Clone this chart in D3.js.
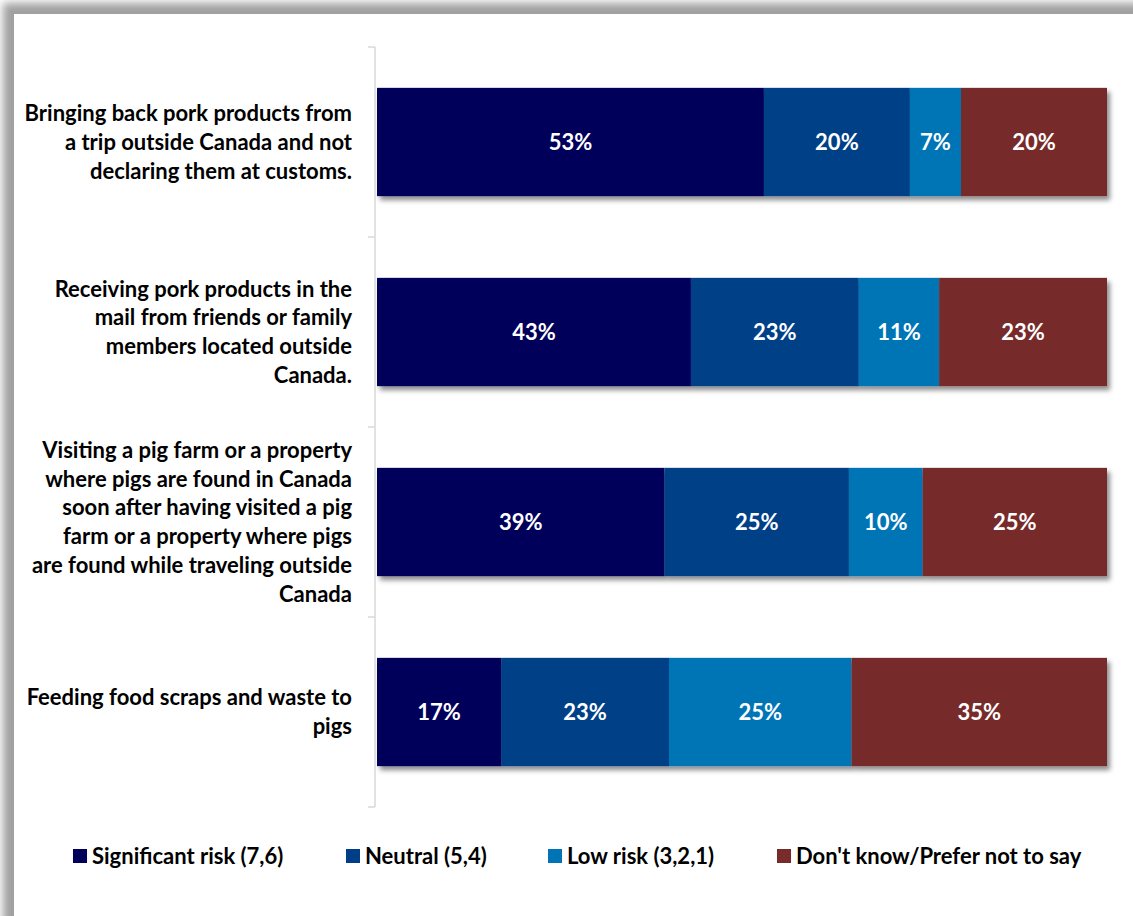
<!DOCTYPE html>
<html>
<head>
<meta charset="utf-8">
<script src="https://cdn.jsdelivr.net/npm/d3@7"></script>
<style>
  body { margin: 0; background: #fff; }
  svg { display: block; font-family: Lato, "Open Sans", sans-serif; }
</style>
</head>
<body>
<script>
const categories = [
  "Bringing back pork products from|a trip outside Canada and not|declaring them at customs.",
  "Receiving pork products in the|mail from friends or family|members located outside|Canada.",
  "Visiting a pig farm or a property|where pigs are found in Canada|soon after having visited a pig|farm or a property where pigs|are found while traveling outside|Canada",
  "Feeding food scraps and waste to|pigs"
]
const seriesNames = ["Significant risk (7,6)", "Neutral (5,4)", "Low risk (3,2,1)", "Don't know/Prefer not to say"]
const significant = [53, 43, 39, 17]
const neutral = [20, 23, 25, 23]
const lowRisk = [7, 11, 10, 25]
const dontKnow = [20, 23, 25, 35]
const colors = ["#00005a", "#003f87", "#0074b5", "#772b2b"]

const width = 1133, height = 916
const margin = ({top: 47, right: 26, bottom: 109, left: 377})

const data = categories.map((c, i) => ({
  cat: c,
  [seriesNames[0]]: significant[i],
  [seriesNames[1]]: neutral[i],
  [seriesNames[2]]: lowRisk[i],
  [seriesNames[3]]: dontKnow[i]
}))

// each row is shown as 100% (labels are rounded values)
const stack = d3.stack().keys(seriesNames).offset(d3.stackOffsetExpand)(data)

const x = d3.scaleLinear().domain([0, 1]).range([margin.left, width - margin.right])
const y = d3.scaleBand()
  .domain(d3.range(categories.length))
  .range([margin.top, height - margin.bottom])
  .paddingInner(0.43).paddingOuter(0.215)

const svg = d3.select("body").append("svg")
  .attr("width", width).attr("height", height)

const defs = svg.append("defs")
const frameBlur = defs.append("filter").attr("id", "frameShadow")
  .attr("x", "-5%").attr("y", "-5%").attr("width", "110%").attr("height", "110%")
frameBlur.append("feGaussianBlur").attr("stdDeviation", 4.5)
const barShadow = defs.append("filter").attr("id", "barShadow")
  .attr("x", "-5%").attr("y", "-20%").attr("width", "110%").attr("height", "150%")
barShadow.append("feDropShadow").attr("dx", 3).attr("dy", 4).attr("stdDeviation", 2.5)
  .attr("flood-color", "#000").attr("flood-opacity", 0.45)

// frame with soft gray edge
svg.append("rect").attr("x", 3).attr("y", 3).attr("width", width + 20).attr("height", height + 20)
  .attr("fill", "#a0a0a0").attr("filter", "url(#frameShadow)")
svg.append("rect").attr("x", 14).attr("y", 14).attr("width", width).attr("height", height)
  .attr("fill", "#fff")

// axis line with ticks at band boundaries
const step = y.step()
const axisX = margin.left - 2
const ticks = d3.range(categories.length + 1).map(i => margin.top + i * step)
const axis = svg.append("g").attr("stroke", "#d9d9d9").attr("stroke-width", 1.5)
axis.append("line").attr("x1", axisX).attr("x2", axisX)
  .attr("y1", ticks[0]).attr("y2", ticks[ticks.length - 1])
axis.selectAll("line.tick").data(ticks).join("line")
  .attr("x1", axisX - 7).attr("x2", axisX).attr("y1", d => d).attr("y2", d => d)

// bars
const barsG = svg.append("g").attr("filter", "url(#barShadow)")
barsG.selectAll("g").data(stack).join("g")
  .attr("fill", (d, i) => colors[i])
  .selectAll("rect").data(d => d).join("rect")
  .attr("x", d => x(d[0]))
  .attr("y", (d, i) => y(i))
  .attr("width", d => x(d[1]) - x(d[0]))
  .attr("height", y.bandwidth())

// value labels
const labG = svg.append("g").attr("fill", "#fff").attr("font-weight", "bold")
  .attr("font-size", 22).attr("text-anchor", "middle")
stack.forEach(s => {
  labG.selectAll(null).data(s).join("text")
    .attr("x", d => (x(d[0]) + x(d[1])) / 2)
    .attr("y", (d, i) => y(i) + y.bandwidth() / 2)
    .attr("dy", "0.35em")
    .text(d => d.data[s.key] + "%")
})

// category labels
const lineH = 28.8
const catG = svg.append("g").attr("font-weight", "bold").attr("font-size", 22)
  .attr("text-anchor", "end").attr("fill", "#000")
categories.forEach((c, i) => {
  const lines = c.split("|")
  const cy = y(i) + y.bandwidth() / 2
  const t = catG.append("text")
  lines.forEach((l, j) => {
    t.append("tspan").attr("x", 352)
      .attr("y", cy + (j - (lines.length - 1) / 2) * lineH)
      .attr("dy", "0.35em").text(l)
  })
})

// legend
const legendX = [73, 346, 548, 777]
const legend = svg.append("g").attr("font-weight", "bold").attr("font-size", 22)
seriesNames.forEach((n, i) => {
  const g = legend.append("g").attr("transform", `translate(${legendX[i]},856)`)
  g.append("rect").attr("x", 0).attr("y", -7).attr("width", 14).attr("height", 14).attr("fill", colors[i])
  g.append("text").attr("x", 19).attr("dy", "0.35em").text(n)
})
</script>
</body>
</html>
